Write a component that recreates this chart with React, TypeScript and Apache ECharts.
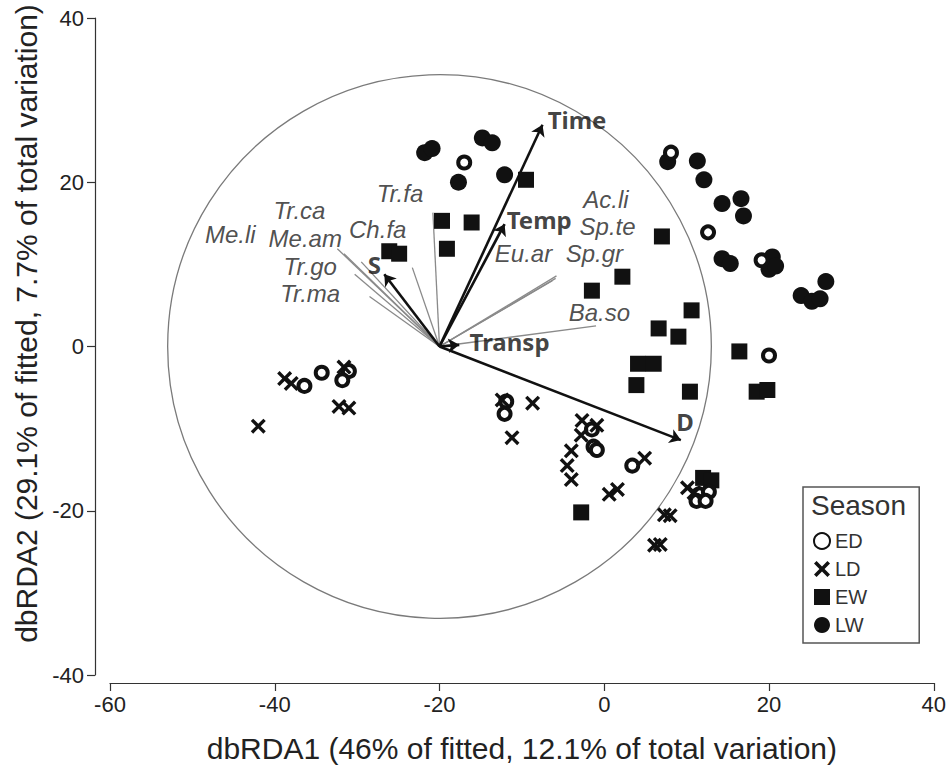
import React, { useEffect, useRef } from "react";
import * as echarts from "echarts";

// ---- data (dbRDA site scores) ----
const edPoints: number[][] = [
  [-17.0, 22.4], [8.1, 23.6], [12.6, 13.9], [19.1, 10.5], [20.0, -1.1],
  [-36.4, -4.8], [-34.3, -3.2], [-31.0, -3.0], [-31.8, -4.1],
  [-11.9, -6.7], [-12.1, -8.2], [-1.5, -10.1], [-1.3, -12.2], [-0.9, -12.6],
  [3.4, -14.5], [11.5, -18.0], [12.7, -17.7], [11.2, -18.8], [12.3, -18.8],
];
const ldPoints: number[][] = [
  [-38.8, -3.9], [-38.0, -4.5], [-31.6, -2.5], [-32.2, -7.3], [-31.0, -7.5],
  [-42.0, -9.7], [-12.4, -6.5], [-8.7, -6.9], [-11.2, -11.1],
  [-2.7, -9.0], [-0.9, -9.6], [-2.8, -10.8], [-4.0, -12.7], [-4.5, -14.5],
  [-4.0, -16.2], [4.9, -13.6], [0.6, -18.0], [1.6, -17.4], [7.3, -20.5],
  [8.0, -20.6], [6.1, -24.2], [6.8, -24.1], [10.1, -17.2], [10.9, -17.8],
];
const ewPoints: number[][] = [
  [-26.1, 11.6], [-24.9, 11.3], [-19.7, 15.3], [-16.1, 15.1], [-19.1, 11.9],
  [-9.5, 20.3], [7.0, 13.4], [2.2, 8.5], [-1.5, 6.8], [10.6, 4.4],
  [6.6, 2.2], [9.0, 1.2], [4.1, -2.1], [6.0, -2.1], [3.9, -4.7],
  [10.4, -5.5], [16.4, -0.6], [18.5, -5.5], [19.8, -5.3], [-2.8, -20.2],
  [12.0, -16.0], [13.0, -16.3],
];
const lwPoints: number[][] = [
  [-21.8, 23.6], [-20.9, 24.1], [-14.8, 25.4], [-13.6, 24.8], [-17.7, 20.0],
  [-12.1, 20.9], [7.7, 22.5], [11.3, 22.6], [12.1, 20.3], [14.3, 17.4],
  [16.6, 18.0], [16.9, 15.9], [14.3, 10.7], [15.3, 10.1], [20.4, 10.9],
  [20.0, 9.4], [20.8, 9.8], [26.9, 7.9], [23.9, 6.2], [25.2, 5.5], [26.2, 5.8],
];

// environmental vectors (bold arrows)
const vectorOrigin = [-20, 0];
const envNames = ["Time", "Temp", "S", "Transp", "D"];
const envTips: number[][] = [[-7.5, 27.0], [-12.1, 14.9], [-26.7, 8.8], [-17.6, 0.2], [9.3, -11.4]];
const envLabelPos: number[][] = [[-3.3, 27.6], [-7.9, 15.5], [-27.9, 10.0], [-11.5, 0.6], [9.8, -9.1]];

// species vectors (thin grey lines)
const speciesNames = ["Tr.fa", "Tr.ca", "Me.li", "Me.am", "Ch.fa", "Tr.go", "Tr.ma", "Ac.li", "Sp.te", "Eu.ar", "Sp.gr", "Ba.so"];
const speciesTips: number[][] = [
  [-20.8, 16.3], [-31.6, 11.3], [-32.4, 11.9], [-29.5, 10.3], [-23.3, 9.6], [-30.3, 8.8],
  [-28.5, 6.1], [-5.9, 8.3], [-5.8, 8.6], [-12.7, 14.0], [-6.3, 8.0], [-1.0, 2.5],
];
const speciesLabelPos: number[][] = [
  [-24.8, 18.6], [-37.0, 16.6], [-45.4, 13.6], [-36.3, 13.1], [-27.5, 14.2], [-35.7, 9.8],
  [-35.7, 6.5], [0.2, 17.9], [0.4, 14.6], [-9.8, 11.3], [-1.2, 11.3], [-0.6, 4.1],
];

const circleRadius = 33;
const seasons = ["ED", "LD", "EW", "LW"];

const X_PATH = "path://M0,1.6L1.6,0L5,3.4L8.4,0L10,1.6L6.6,5L10,8.4L8.4,10L5,6.6L1.6,10L0,8.4L3.4,5Z";

export default function App() {
  const ref = useRef<HTMLDivElement>(null);
  useEffect(() => {
    document.body.style.margin = "0";
    const chart = echarts.init(ref.current!, null, { renderer: "svg" });
    const ink = "#111";
    const option: any = {
      animation: false,
      backgroundColor: "#fff",
      grid: { left: 110, right: 15, top: 18, bottom: 89 },
      xAxis: {
        type: "value", min: -60, max: 40, interval: 20,
        offset: 8,
        name: "dbRDA1 (46% of fitted, 12.1% of total variation)",
        nameLocation: "middle", nameGap: 50,
        nameTextStyle: { fontFamily: "Liberation Sans", fontSize: 30, color: "#222" },
        axisLine: { show: true, onZero: false, lineStyle: { color: "#333", width: 1.2 } },
        axisTick: { show: true, length: 8, lineStyle: { color: "#333", width: 1.2 } },
        axisLabel: { fontFamily: "Liberation Sans", fontSize: 22, color: "#222", margin: 10 },
        splitLine: { show: false },
      },
      yAxis: {
        type: "value", min: -40, max: 40, interval: 20,
        offset: 15,
        name: "dbRDA2 (29.1% of fitted, 7.7% of total variation)",
        nameLocation: "middle", nameGap: 46,
        nameTextStyle: { fontFamily: "Liberation Sans", fontSize: 30, color: "#222", padding: [0, 0, 0, 46] },
        axisLine: { show: true, onZero: false, lineStyle: { color: "#333", width: 1.2 } },
        axisTick: { show: true, length: 8, lineStyle: { color: "#333", width: 1.2 } },
        axisLabel: { fontFamily: "Liberation Sans", fontSize: 22, color: "#222", margin: 11 },
        splitLine: { show: false },
      },
      legend: {
        orient: "vertical",
        left: 803, top: 487,
        data: seasons,
        padding: [44, 52, 8, 10],
        borderColor: "#555", borderWidth: 1.5,
        itemWidth: 16, itemHeight: 16, itemGap: 8,
        textStyle: { fontFamily: "Liberation Sans", fontSize: 20, color: "#333" },
      },
      graphic: [
        {
          type: "text", left: 811, top: 491,
          style: { text: "Season", fontFamily: "Liberation Sans", fontSize: 28, fill: "#333" },
        },
      ],
      series: [
        {
          type: "custom", name: "circle", silent: true, z: 1,
          data: [[vectorOrigin[0], vectorOrigin[1], circleRadius]],
          renderItem: (params: any, api: any) => {
            const c = api.coord([api.value(0), api.value(1)]);
            const r = api.size([api.value(2), 0])[0];
            return { type: "circle", shape: { cx: c[0], cy: c[1], r }, style: { fill: "none", stroke: "#7a7a7a", lineWidth: 1.3 } };
          },
        },
        {
          type: "lines", coordinateSystem: "cartesian2d", name: "species", silent: true, z: 2,
          symbol: ["none", "none"],
          lineStyle: { color: "#8a8a8a", width: 1.3, opacity: 1 },
          data: speciesTips.map((t) => ({ coords: [vectorOrigin, t] })),
        },
        {
          type: "lines", coordinateSystem: "cartesian2d", name: "env", silent: true, z: 3,
          symbol: ["none", "arrow"], symbolSize: [7, 11],
          lineStyle: { color: ink, width: 2.6, opacity: 1 },
          data: envTips.map((t) => ({ coords: [vectorOrigin, t] })),
        },
        {
          type: "scatter", name: "speciesLabels", silent: true, z: 4,
          symbolSize: 0,
          label: {
            show: true, position: "inside", formatter: "{b}",
            fontFamily: "Liberation Sans", fontStyle: "italic", fontSize: 24, lineHeight: 22, color: "#222",
          },
          data: speciesNames.map((n, i) => ({ name: n, value: speciesLabelPos[i] })),
        },
        {
          type: "scatter", name: "envLabels", silent: true, z: 4,
          symbolSize: 0,
          label: {
            show: true, position: "inside", formatter: "{b}",
            fontFamily: "Noto Sans", fontWeight: "bold", fontSize: 24, lineHeight: 22, color: ink,
          },
          data: envNames.map((n, i) => ({ name: n, value: envLabelPos[i] })),
        },
        {
          type: "scatter", name: "LW", z: 5, symbol: "circle", symbolSize: 17,
          itemStyle: { color: ink, opacity: 1 },
          data: lwPoints,
        },
        {
          type: "scatter", name: "EW", z: 5, symbol: "rect", symbolSize: 16,
          itemStyle: { color: ink, opacity: 1 },
          data: ewPoints,
        },
        {
          type: "scatter", name: "ED", z: 6, symbol: "circle", symbolSize: 12,
          itemStyle: { color: "#fff", borderColor: ink, borderWidth: 4, opacity: 1 },
          data: edPoints,
        },
        {
          type: "scatter", name: "LD", z: 6, symbol: X_PATH, symbolSize: 15,
          itemStyle: { color: ink, opacity: 1 },
          data: ldPoints,
        },
      ],
    };
    chart.setOption(option);
    return () => chart.dispose();
  }, []);
  return <div ref={ref} style={{ position: "fixed", left: 0, top: 0, width: 949, height: 768 }} />;
}
